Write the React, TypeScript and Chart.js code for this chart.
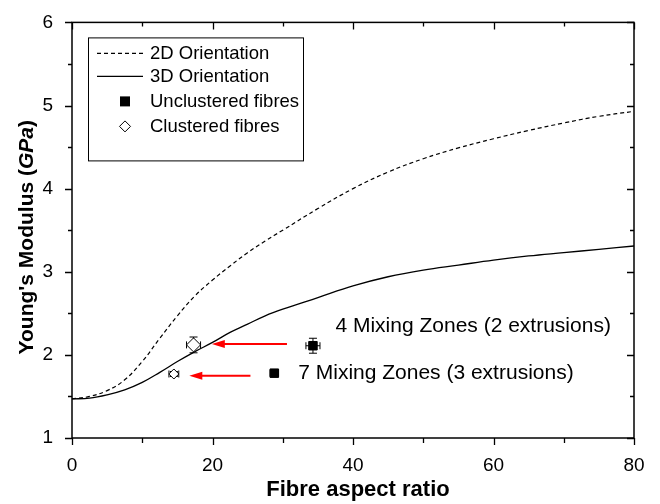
import React, { useEffect, useRef } from 'react';
import { Chart, registerables } from 'chart.js';

Chart.register(...registerables);

// ---- Data ----
const curveX = [0, 2.5, 5, 7.5, 10, 12.5, 15, 17.5, 20, 22.5, 25, 27.5, 30, 35, 40, 45, 50, 55, 60, 65, 70, 75, 80];
const orient2D = [1.47, 1.5, 1.57, 1.7, 1.92, 2.2, 2.47, 2.71, 2.9, 3.07, 3.23, 3.37, 3.5, 3.76, 4.0, 4.2, 4.36, 4.49, 4.6, 4.7, 4.79, 4.87, 4.93];
const orient3D = [1.47, 1.48, 1.52, 1.58, 1.67, 1.79, 1.92, 2.04, 2.15, 2.27, 2.37, 2.47, 2.55, 2.69, 2.83, 2.94, 3.02, 3.08, 3.14, 3.19, 3.23, 3.27, 3.31];

const unclusteredX = [34.3, 28.8];
const unclusteredY = [2.11, 1.78];
const unclusteredXErr = [1.0, 0.6];
const unclusteredYErr = [0.09, 0.03];

const clusteredX = [17.3, 14.5];
const clusteredY = [2.12, 1.77];
const clusteredXErr = [1.0, 0.7];
const clusteredYErr = [0.095, 0.03];
const clusteredRadius = [7, 5];

const annotationLabels = ['4 Mixing Zones (2 extrusions)', '7 Mixing Zones (3 extrusions)'];
const annotationX = [37.5, 32.2];
const annotationY = [2.35, 1.78];
const arrowTailX = [30.6, 25.4];
const arrowHeadX = [19.9, 16.7];
const arrowY = [2.13, 1.75];

const seriesLabels = ['2D Orientation', '3D Orientation', 'Unclustered fibres', 'Clustered fibres'];
const xTitle = 'Fibre aspect ratio';
const yTitleParts = ["Young's Modulus (", 'GPa', ')'];

const xMin = 0, xMax = 80, xStep = 10, xLabelEvery = 20;
const yMin = 1, yMax = 6, yStep = 0.5, yLabelEvery = 1;

const FONT = '"Liberation Sans", Arial, Helvetica, sans-serif';
const TICK_FONT_SIZE = 19;

const errorSets = [
  { xs: unclusteredX, ys: unclusteredY, xe: unclusteredXErr, ye: unclusteredYErr },
  { xs: clusteredX, ys: clusteredY, xe: clusteredXErr, ye: clusteredYErr },
];

const decorPlugin = {
  id: 'decor',
  beforeDatasetsDraw(chart: any) {
    const { ctx, scales } = chart;
    const xs = scales.x, ys = scales.y;
    ctx.save();
    ctx.strokeStyle = '#000';
    ctx.lineWidth = 1;
    errorSets.forEach((s) => {
      s.xs.forEach((xv, i) => {
        const px = xs.getPixelForValue(xv);
        const py = ys.getPixelForValue(s.ys[i]);
        const x0 = xs.getPixelForValue(xv - s.xe[i]);
        const x1 = xs.getPixelForValue(xv + s.xe[i]);
        const y0 = ys.getPixelForValue(s.ys[i] - s.ye[i]);
        const y1 = ys.getPixelForValue(s.ys[i] + s.ye[i]);
        ctx.beginPath();
        ctx.moveTo(x0, py); ctx.lineTo(x1, py);
        ctx.moveTo(x0, py - 3.5); ctx.lineTo(x0, py + 3.5);
        ctx.moveTo(x1, py - 3.5); ctx.lineTo(x1, py + 3.5);
        ctx.moveTo(px, y0); ctx.lineTo(px, y1);
        ctx.moveTo(px - 4, y0); ctx.lineTo(px + 4, y0);
        ctx.moveTo(px - 4, y1); ctx.lineTo(px + 4, y1);
        ctx.stroke();
      });
    });
    ctx.restore();
  },
  afterDraw(chart: any) {
    const { ctx, chartArea, scales } = chart;
    const xs = scales.x, ys = scales.y;
    const { left, right, top, bottom } = chartArea;
    ctx.save();

    // frame
    ctx.strokeStyle = '#000';
    ctx.lineWidth = 1.5;
    ctx.strokeRect(left, top, right - left, bottom - top);

    // ticks
    ctx.lineWidth = 1.3;
    ctx.beginPath();
    xs.ticks.forEach((t: any) => {
      const v = t.value;
      const major = Math.abs(v % xLabelEvery) < 1e-6;
      const px = Math.round(xs.getPixelForValue(v)) + 0.5;
      ctx.moveTo(px, bottom); ctx.lineTo(px, bottom + (major ? 7 : 5));
      ctx.moveTo(px, top); ctx.lineTo(px, top + (major ? 7 : 4));
    });
    ys.ticks.forEach((t: any) => {
      const v = t.value;
      const major = Math.abs(v % yLabelEvery) < 1e-6;
      const py = Math.round(ys.getPixelForValue(v)) + 0.5;
      const len = major ? 7 : 4;
      ctx.moveTo(left, py); ctx.lineTo(left - len, py);
      ctx.moveTo(right, py); ctx.lineTo(right - len, py);
    });
    ctx.stroke();

    // arrows
    ctx.strokeStyle = '#ff0000';
    ctx.fillStyle = '#ff0000';
    ctx.lineWidth = 2;
    arrowY.forEach((yv, i) => {
      const py = ys.getPixelForValue(yv);
      const tx = xs.getPixelForValue(arrowTailX[i]);
      const hx = xs.getPixelForValue(arrowHeadX[i]);
      const headLen = 13;
      ctx.beginPath();
      ctx.moveTo(tx, py); ctx.lineTo(hx + headLen - 1, py);
      ctx.stroke();
      ctx.beginPath();
      ctx.moveTo(hx, py);
      ctx.lineTo(hx + headLen, py - 4);
      ctx.lineTo(hx + headLen, py + 4);
      ctx.closePath();
      ctx.fill();
    });

    // annotation labels
    ctx.fillStyle = '#000';
    ctx.font = `21px ${FONT}`;
    ctx.textAlign = 'left';
    ctx.textBaseline = 'middle';
    annotationLabels.forEach((s, i) => {
      ctx.fillText(s, xs.getPixelForValue(annotationX[i]), ys.getPixelForValue(annotationY[i]));
    });

    // legend
    const lx = left + 16, ly = top + 15, lw = 215, lh = 123;
    ctx.fillStyle = '#fff';
    ctx.fillRect(lx, ly, lw, lh);
    ctx.strokeStyle = '#000';
    ctx.lineWidth = 1;
    ctx.strokeRect(lx + 0.5, ly + 0.5, lw, lh);
    const rows = [16, 39, 64, 89];
    const ds = chart.data.datasets;
    const legendOrder = [0, 1, 2, 3];
    ctx.font = `18.5px ${FONT}`;
    legendOrder.forEach((di, r) => {
      const d = ds[di];
      const ry = ly + rows[r];
      const mx = lx + 37;
      ctx.strokeStyle = '#000';
      ctx.fillStyle = '#000';
      if (d.showLine) {
        ctx.save();
        ctx.lineWidth = d.borderWidth;
        ctx.setLineDash(d.borderDash || []);
        ctx.beginPath();
        ctx.moveTo(lx + 9, ry); ctx.lineTo(lx + 55, ry);
        ctx.stroke();
        ctx.restore();
      } else if (d.pointStyle === 'rect') {
        ctx.fillRect(mx - 5, ry - 5, 10, 10);
      } else {
        const rr = 5.5;
        ctx.save();
        ctx.lineWidth = 1;
        ctx.beginPath();
        ctx.moveTo(mx - rr, ry); ctx.lineTo(mx, ry - rr); ctx.lineTo(mx + rr, ry); ctx.lineTo(mx, ry + rr);
        ctx.closePath();
        ctx.fillStyle = '#fff';
        ctx.fill();
        ctx.stroke();
        ctx.restore();
      }
      ctx.fillStyle = '#000';
      ctx.textAlign = 'left';
      ctx.textBaseline = 'middle';
      ctx.fillText(d.label, lx + 62, ry + 1);
    });

    // axis titles
    ctx.fillStyle = '#000';
    ctx.font = `bold 22px ${FONT}`;
    ctx.textAlign = 'center';
    ctx.textBaseline = 'middle';
    ctx.fillText(xTitle, (left + right) / 2 + 5, 490);

    ctx.translate(27, (top + bottom) / 2 + 7);
    ctx.rotate(-Math.PI / 2);
    const fonts = [`bold 21px ${FONT}`, `italic bold 21px ${FONT}`, `bold 21px ${FONT}`];
    let total = 0;
    const widths = yTitleParts.map((p, i) => { ctx.font = fonts[i]; const w = ctx.measureText(p).width; total += w; return w; });
    let cx = -total / 2;
    ctx.textAlign = 'left';
    yTitleParts.forEach((p, i) => {
      ctx.font = fonts[i];
      ctx.fillText(p, cx, 0);
      cx += widths[i];
    });
    ctx.restore();
  },
};

export default function App() {
  const ref = useRef<HTMLCanvasElement | null>(null);
  useEffect(() => {
    if (!ref.current) return;
    const chart = new Chart(ref.current, {
      type: 'scatter',
      data: {
        datasets: [
          {
            label: seriesLabels[0],
            data: curveX.map((x, i) => ({ x, y: orient2D[i] })),
            showLine: true,
            borderColor: '#000',
            borderWidth: 1.2,
            borderDash: [4, 3],
            pointRadius: 0,
            tension: 0.4,
            order: 2,
          },
          {
            label: seriesLabels[1],
            data: curveX.map((x, i) => ({ x, y: orient3D[i] })),
            showLine: true,
            borderColor: '#000',
            borderWidth: 1.3,
            pointRadius: 0,
            tension: 0.4,
            order: 2,
          },
          {
            label: seriesLabels[2],
            data: unclusteredX.map((x, i) => ({ x, y: unclusteredY[i] })),
            showLine: false,
            pointStyle: 'rect',
            pointRadius: 6,
            backgroundColor: '#000',
            borderColor: '#000',
            borderWidth: 1,
            order: 0,
          },
          {
            label: seriesLabels[3],
            data: clusteredX.map((x, i) => ({ x, y: clusteredY[i] })),
            showLine: false,
            pointStyle: 'rectRot',
            pointRadius: clusteredRadius,
            backgroundColor: '#fff',
            borderColor: '#000',
            borderWidth: 1,
            order: 0,
          },
        ],
      } as any,
      options: {
        animation: false,
        responsive: false,
        layout: { padding: { top: 19, right: 26, left: 0, bottom: 0 } },
        plugins: { legend: { display: false }, tooltip: { enabled: false }, title: { display: false } },
        scales: {
          x: {
            type: 'linear',
            min: xMin,
            max: xMax,
            grid: { display: false },
            border: { display: false },
            ticks: {
              stepSize: xStep,
              autoSkip: false,
              maxRotation: 0,
              padding: 8,
              color: '#000',
              font: { family: FONT, size: TICK_FONT_SIZE },
              callback: (v: any) => (Math.abs(v % xLabelEvery) < 1e-6 ? String(v) : ''),
            },
            afterFit: (s: any) => { s.height = 66; },
          },
          y: {
            type: 'linear',
            min: yMin,
            max: yMax,
            grid: { display: false },
            border: { display: false },
            ticks: {
              stepSize: yStep,
              autoSkip: false,
              padding: 11,
              color: '#000',
              font: { family: FONT, size: TICK_FONT_SIZE },
              callback: (v: any) => (Math.abs(v % yLabelEvery) < 1e-6 ? String(v) : ''),
            },
            afterFit: (s: any) => { s.width = 72; },
          },
        },
      } as any,
      plugins: [decorPlugin],
    });
    return () => chart.destroy();
  }, []);
  return (
    <div style={{ position: 'fixed', left: 0, top: 0, width: 660, height: 504, background: '#fff' }}>
      <canvas ref={ref} width={660} height={504} style={{ display: 'block' }} />
    </div>
  );
}
